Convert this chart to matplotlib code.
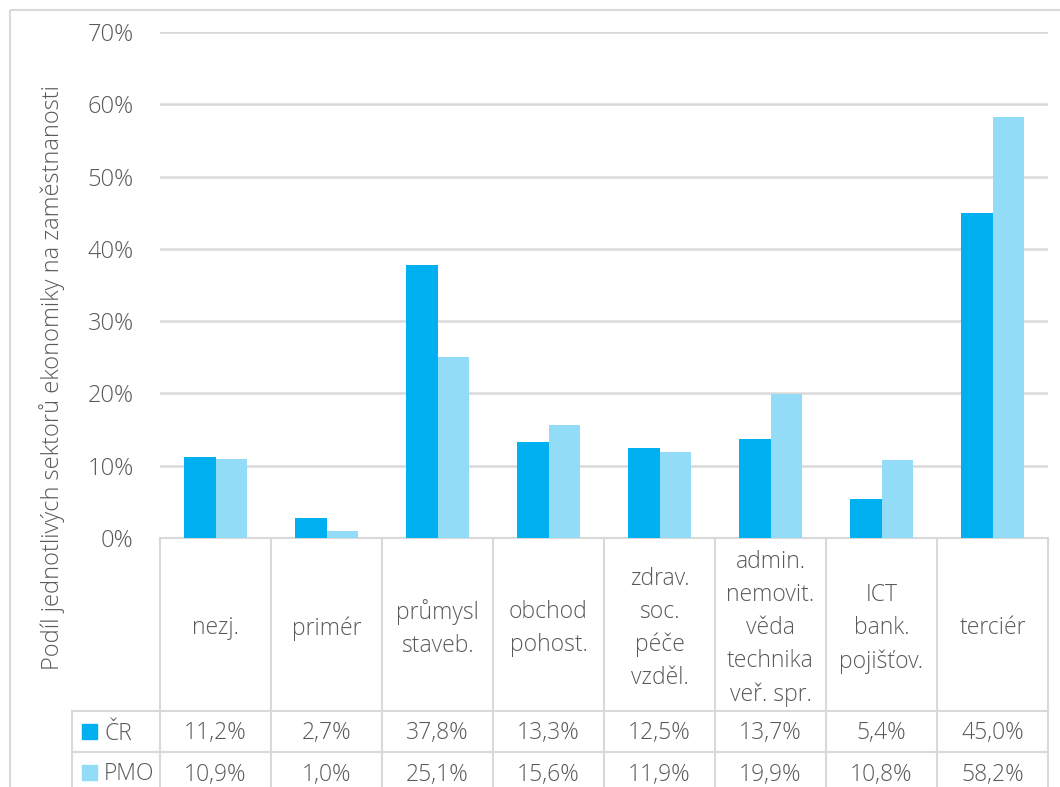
import matplotlib.pyplot as plt
from matplotlib.patches import Rectangle

categories = ["nezj.", "primér", "průmysl\nstaveb.", "obchod\npohost.",
              "zdrav.\nsoc.\npéče\nvzděl.", "admin.\nnemovit.\nvěda\ntechnika\nveř. spr.",
              "ICT\nbank.\npojišťov.", "terciér"]
series_names = ["ČR", "PMO"]
cr_values = [11.2, 2.7, 37.8, 13.3, 12.5, 13.7, 5.4, 45.0]
pmo_values = [10.9, 1.0, 25.1, 15.6, 11.9, 19.9, 10.8, 58.2]
y_ticks = [0, 10, 20, 30, 40, 50, 60, 70]
y_label = "Podíl jednotlivých sektorů ekonomiky na zaměstnanosti"

colors = ["#00B0F0", "#92DCF8"]
text_color = "#595959"
grid_color = "#D9D9D9"

plt.rcParams["font.family"] = ["Open Sans", "DejaVu Sans"]
plt.rcParams["font.weight"] = "light"

W, H = 1060, 787
fig = plt.figure(figsize=(W / 100, H / 100), dpi=100)

# pixel-space layer for the border and the data table
ax_t = fig.add_axes([0, 0, 1, 1])
ax_t.set_xlim(0, W)
ax_t.set_ylim(H, 0)
ax_t.axis("off")

ax_t.add_patch(Rectangle((10, 10), W + 10, H + 10, fill=False,
                         edgecolor=grid_color, linewidth=1.5))

plot_left, plot_right = 160, 1048
plot_top, plot_bottom = 32, 538
n = len(categories)
col_w = (plot_right - plot_left) / n
row1, row2, row3 = 711, 752, 793
leg_left = 72
fs = 16.5

# bar axes
ax = fig.add_axes([plot_left / W, 1 - plot_bottom / H,
                   (plot_right - plot_left) / W, (plot_bottom - plot_top) / H])
ax.patch.set_alpha(0)
bar_w = 0.285
xs = list(range(n))
ax.bar([x - bar_w / 2 for x in xs], cr_values, width=bar_w, color=colors[0], zorder=3)
ax.bar([x + bar_w / 2 for x in xs], pmo_values, width=bar_w, color=colors[1], zorder=3)
ax.set_xlim(-0.5, n - 0.5)
ax.set_ylim(0, 70)
ax.set_yticks(y_ticks)
ax.set_yticklabels([f"{t}%" for t in y_ticks])
ax.set_xticks([])
ax.tick_params(axis="y", length=0, pad=19, labelsize=17, labelcolor=text_color)
ax.grid(axis="y", color=grid_color, linewidth=1.8, zorder=0)
for s in ax.spines.values():
    s.set_visible(False)

# table lines
lc = dict(color=grid_color, linewidth=1.5)
ax_t.plot([plot_left, plot_right], [plot_bottom, plot_bottom], **lc)
for y in (row1, row2):
    ax_t.plot([leg_left, plot_right], [y, y], **lc)
ax_t.plot([leg_left, leg_left], [row1, H], **lc)
for i in range(n + 1):
    x = plot_left + i * col_w
    ax_t.plot([x, x], [plot_bottom, H], **lc)

# table text
for i, cat in enumerate(categories):
    cx = plot_left + (i + 0.5) * col_w
    ax_t.text(cx, (plot_bottom + row1) / 2 + 4, cat, ha="center", va="center",
              fontsize=fs, color=text_color, linespacing=1.5)
    ax_t.text(cx, (row1 + row2) / 2 + 2, f"{cr_values[i]:.1f}%".replace(".", ","),
              ha="center", va="center", fontsize=fs, color=text_color)
    ax_t.text(cx, (row2 + row3) / 2 + 2, f"{pmo_values[i]:.1f}%".replace(".", ","),
              ha="center", va="center", fontsize=fs, color=text_color)

for j, (name, c) in enumerate(zip(series_names, colors)):
    yc = [(row1 + row2) / 2, (row2 + row3) / 2][j]
    ax_t.add_patch(Rectangle((82, yc - 7.5), 15, 15, color=c))
    ax_t.text(104, yc + 2, name, ha="left", va="center", fontsize=fs, color=text_color)

fig.text(52 / W, 1 - 378 / H, y_label, rotation=90, ha="center", va="center",
         fontsize=17, color=text_color)

fig.savefig("out.png", dpi=100)
